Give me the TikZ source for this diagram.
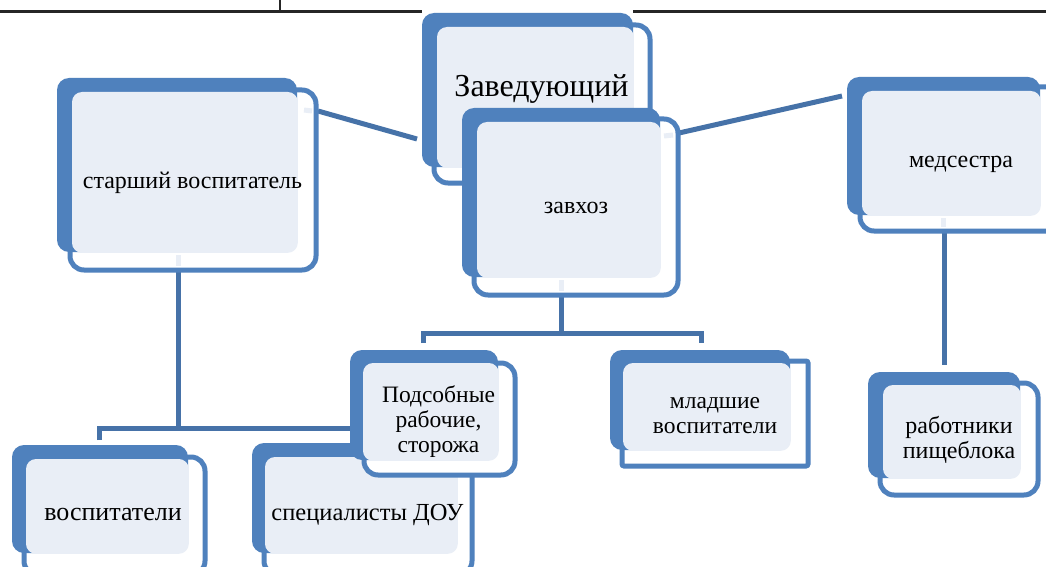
\documentclass[tikz,border=0pt]{standalone}
\usepackage{fontspec}
\setmainfont{Liberation Serif}
\definecolor{bx}{HTML}{4F81BD}
\definecolor{lt}{HTML}{E9EEF6}
\definecolor{cn}{HTML}{4672A8}
\tikzset{
  back/.style={fill=bx, rounded corners=12pt},
  light/.style={fill=lt, rounded corners=10pt},
  frame/.style={draw=bx, line width=5pt, fill=white, rounded corners=14pt},
  sqframe/.style={draw=bx, line width=5pt, fill=white, rounded corners=2pt},
  conn/.style={draw=cn, line width=5pt},
  stub/.style={draw=lt, line width=5pt},
  lbl/.style={align=center, inner sep=0pt, text=black, anchor=base},
}
\begin{document}
\begin{tikzpicture}[x=1pt,y=-1pt]
\useasboundingbox (0,0) rectangle (1046,567);
\fill[white] (0,0) rectangle (1046,567);
% page table lines
\draw[line width=2.5pt, black!85] (0,11.5) -- (1046,11.5);
\draw[line width=1.5pt, black!85] (280,0) -- (280,11);
\fill[white] (422,8) rectangle (633,14);

% connectors
\coordinate (st-r) at (318,111);
\coordinate (zav-l) at (417,139);
\coordinate (zh-r) at (679,133);
\coordinate (med-l) at (842,96);
\coordinate (zh-b) at (561,297);
\coordinate (bus1) at (561,333);
\coordinate (pod-t) at (423,343);
\coordinate (mlad-t) at (701,343);
\coordinate (st-b) at (178,270);
\coordinate (bus2) at (178,428);
\coordinate (vos-t) at (99,440);
\coordinate (spec-t) at (362,445);
\coordinate (med-b) at (944,231);
\coordinate (rab-t) at (944,365);
\draw[conn] (st-r) -- (zav-l);
\draw[conn] (zh-r) -- (med-l);
\draw[conn] (zh-b) -- (bus1);
\draw[conn] (pod-t) |- (bus1) -| (mlad-t);
\draw[conn] (st-b) -- (bus2);
\draw[conn] (vos-t) |- (bus2) -| (spec-t);
\draw[conn] (med-b) -- (rab-t);

% старший воспитатель
\path[frame] (70,90) rectangle (316,270);
\path[back] (57,78) rectangle (297,252);
\path[light] (72,92) rectangle (297.8,252.8);
\node[lbl, font=\fontsize{24}{26}\selectfont] (star) at (192.5,188) {старший воспитатель};

% Заведующий
\path[frame] (434,25) rectangle (650,183);
\path[back] (422,13) rectangle (633,167);
\path[light] (437,27) rectangle (633.8,167.8);
\node[lbl, font=\fontsize{32}{34}\selectfont] (zav) at (541.5,97) {Заведующий};

% завхоз
\path[frame] (474,119) rectangle (678,295);
\path[back] (462,108) rectangle (660,277);
\path[light] (477,122) rectangle (660.8,277.8);
\node[lbl, font=\fontsize{24}{26}\selectfont] (zh) at (576,213) {завхоз};

% медсестра
\path[frame] (860,87) rectangle (1130,231);
\path[back] (847,77) rectangle (1040,215);
\path[light] (862,91) rectangle (1040.8,215.8);
\node[lbl, font=\fontsize{24}{26}\selectfont] (med) at (961,167) {медсестра};

% воспитатели
\path[frame] (24,457) rectangle (205,575);
\path[back] (12,445) rectangle (188,553);
\path[light] (26,459) rectangle (188.8,553.8);
\node[lbl, font=\fontsize{26}{28}\selectfont] (vos) at (113,520) {воспитатели};

% специалисты ДОУ
\path[frame] (264,455) rectangle (472,575);
\path[back] (252,443) rectangle (457,553);
\path[light] (265,457) rectangle (457.8,553.8);
\node[lbl, font=\fontsize{24.5}{27}\selectfont] (spec) at (367.5,520) {специалисты ДОУ};

% Подсобные рабочие, сторожа
\path[frame] (364,363) rectangle (515,475);
\path[back] (350,350) rectangle (498,460);
\path[light] (363,363) rectangle (498.8,460.8);
\node[lbl, font=\fontsize{23.5}{25}\selectfont] (pod) at (438.5,452) {Подсобные\\рабочие,\\сторожа};

% младшие воспитатели
\path[sqframe] (622,361) rectangle (808,466);
\path[back] (610,350) rectangle (790,450);
\path[light] (623,363) rectangle (790.8,450.8);
\node[lbl, font=\fontsize{23.5}{25}\selectfont] (mlad) at (715,433) {младшие\\воспитатели};

% работники пищеблока
\path[frame] (880,383) rectangle (1038,495);
\path[back] (868,372) rectangle (1020,478);
\path[light] (883,385) rectangle (1020.8,478.8);
\node[lbl, font=\fontsize{24}{25}\selectfont] (rab) at (959,458) {работники\\пищеблока};

% light stubs of connectors
\draw[stub] (304,110) -- (312,111);
\draw[stub] (664,136) -- (673,135);
\draw[stub] (561,280) -- (561,291);
\draw[stub] (178,255) -- (178,266);
\draw[stub] (943,218) -- (943,227);
\end{tikzpicture}
\end{document}
